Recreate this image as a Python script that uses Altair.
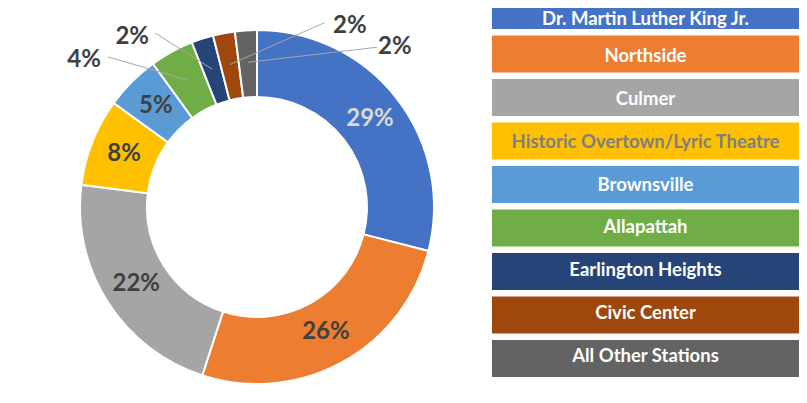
import altair as alt
import pandas as pd

# ---- data ----
stations = [
    "Dr. Martin Luther King Jr.",
    "Northside",
    "Culmer",
    "Historic Overtown/Lyric Theatre",
    "Brownsville",
    "Allapattah",
    "Earlington Heights",
    "Civic Center",
    "All Other Stations",
]
shares = [29, 26, 22, 8, 5, 4, 2, 2, 2]

# ---- styles ----
colors = ["#4472C4", "#ED7D31", "#A5A5A5", "#FFC000", "#5B9BD5",
          "#70AD47", "#264478", "#9E480E", "#636363"]
legend_text_colors = ["#ffffff"] * 3 + ["#7f7f7f"] + ["#ffffff"] * 5
pct_label_colors = ["#d9d9d9"] + ["#404040"] * 8

# ---- layout (label placement relative to slice anchor, px; y up) ----
inside = [True] * 5 + [False] * 4
label_dx = [0, 0, 0, 0, 0, -103, -80, 120, 147]
label_dy = [0, 0, 0, 0, 0, 20, 32, 39, 15]
line_dx = [0, 0, 0, 0, 0, -79, -57, 95, 129]
line_dy = [0, 0, 0, 0, 0, 23, 36, 42, 15]

W, H = 791, 387
CX, CY = 249, 199
R_OUT, R_IN = 177, 110
R_LABEL = 143
R_ANCHOR = 145
FONT = "Lato"
PCT_SIZE = 24
LEG_SIZE = 18.5

df = pd.DataFrame({
    "station": stations,
    "value": shares,
    "idx": list(range(len(stations))),
    "color": colors,
    "ltc": legend_text_colors,
    "pc": pct_label_colors,
    "inside": inside,
    "ldx": label_dx, "ldy": label_dy,
    "ndx": line_dx, "ndy": line_dy,
})

base = alt.Chart(df)

xs = alt.Scale(domain=[-CX, W - CX], nice=False, zero=False)
ys = alt.Scale(domain=[-(H - CY), CY], nice=False, zero=False)

arcs = base.mark_arc(radius=R_OUT, radius2=R_IN, stroke="white", strokeWidth=2).encode(
    theta=alt.Theta("value:Q", stack=True),
    order=alt.Order("idx:Q"),
    color=alt.Color("color:N", scale=None),
    x=alt.value(CX),
    y=alt.value(CY),
)

geo = base.transform_window(
    cum="sum(value)", sort=[alt.SortField("idx")]
).transform_joinaggregate(
    total="sum(value)"
).transform_calculate(
    mid="(datum.cum - datum.value/2)/datum.total*2*PI"
).transform_calculate(
    ix=f"sin(datum.mid)*{R_LABEL}",
    iy=f"cos(datum.mid)*{R_LABEL}",
    ax=f"sin(datum.mid)*{R_ANCHOR}",
    ay=f"cos(datum.mid)*{R_ANCHOR}",
).transform_calculate(
    lx="datum.ax + datum.ldx",
    ly="datum.ay + datum.ldy",
    nx="datum.ax + datum.ndx",
    ny="datum.ay + datum.ndy",
    pct="datum.value + '%'",
)

inner_labels = geo.transform_filter("datum.inside").mark_text(
    font=FONT, fontWeight="bold", fontSize=PCT_SIZE, align="center", baseline="middle"
).encode(
    x=alt.X("ix:Q", scale=xs, axis=None),
    y=alt.Y("iy:Q", scale=ys, axis=None),
    text="pct:N",
    color=alt.Color("pc:N", scale=None),
)

leader = geo.transform_filter("!datum.inside").mark_rule(color="#a6a6a6", strokeWidth=1).encode(
    x=alt.X("ax:Q", scale=xs, axis=None),
    y=alt.Y("ay:Q", scale=ys, axis=None),
    x2="nx:Q",
    y2="ny:Q",
)

outer_labels = geo.transform_filter("!datum.inside").mark_text(
    font=FONT, fontWeight="bold", fontSize=PCT_SIZE, align="center", baseline="middle"
).encode(
    x=alt.X("lx:Q", scale=xs, axis=None),
    y=alt.Y("ly:Q", scale=ys, axis=None),
    text="pct:N",
    color=alt.Color("pc:N", scale=None),
)

ly_enc = alt.Y(
    "station:N", sort=stations, axis=None,
    scale=alt.Scale(domain=stations, range=[-16, 369], paddingInner=0.15, paddingOuter=0),
)

legend_boxes = base.mark_rect().encode(
    y=ly_enc,
    x=alt.value(484),
    x2=alt.value(W),
    color=alt.Color("color:N", scale=None),
)

legend_text = base.transform_filter(f"datum.idx > 0").mark_text(
    font=FONT, fontWeight="bold", fontSize=LEG_SIZE, align="center", baseline="middle"
).encode(
    y=ly_enc,
    x=alt.value((484 + W) / 2),
    text="station:N",
    color=alt.Color("ltc:N", scale=None),
)

# first legend entry: its box is cut by the top edge, keep the text visible
legend_text_first = base.transform_filter("datum.idx == 0").mark_text(
    font=FONT, fontWeight="bold", fontSize=LEG_SIZE, align="center", baseline="middle", dy=6
).encode(
    y=ly_enc,
    x=alt.value((484 + W) / 2),
    text="station:N",
    color=alt.Color("ltc:N", scale=None),
)

chart = alt.layer(
    arcs, leader, inner_labels, outer_labels, legend_boxes, legend_text, legend_text_first
).resolve_scale(
    y="independent", x="independent"
).properties(
    width=W, height=H,
    autosize=alt.AutoSizeParams(type="none"),
    padding=0,
).configure_view(stroke=None)

chart.save("out.html", embed_options={"renderer": "svg", "actions": False})
